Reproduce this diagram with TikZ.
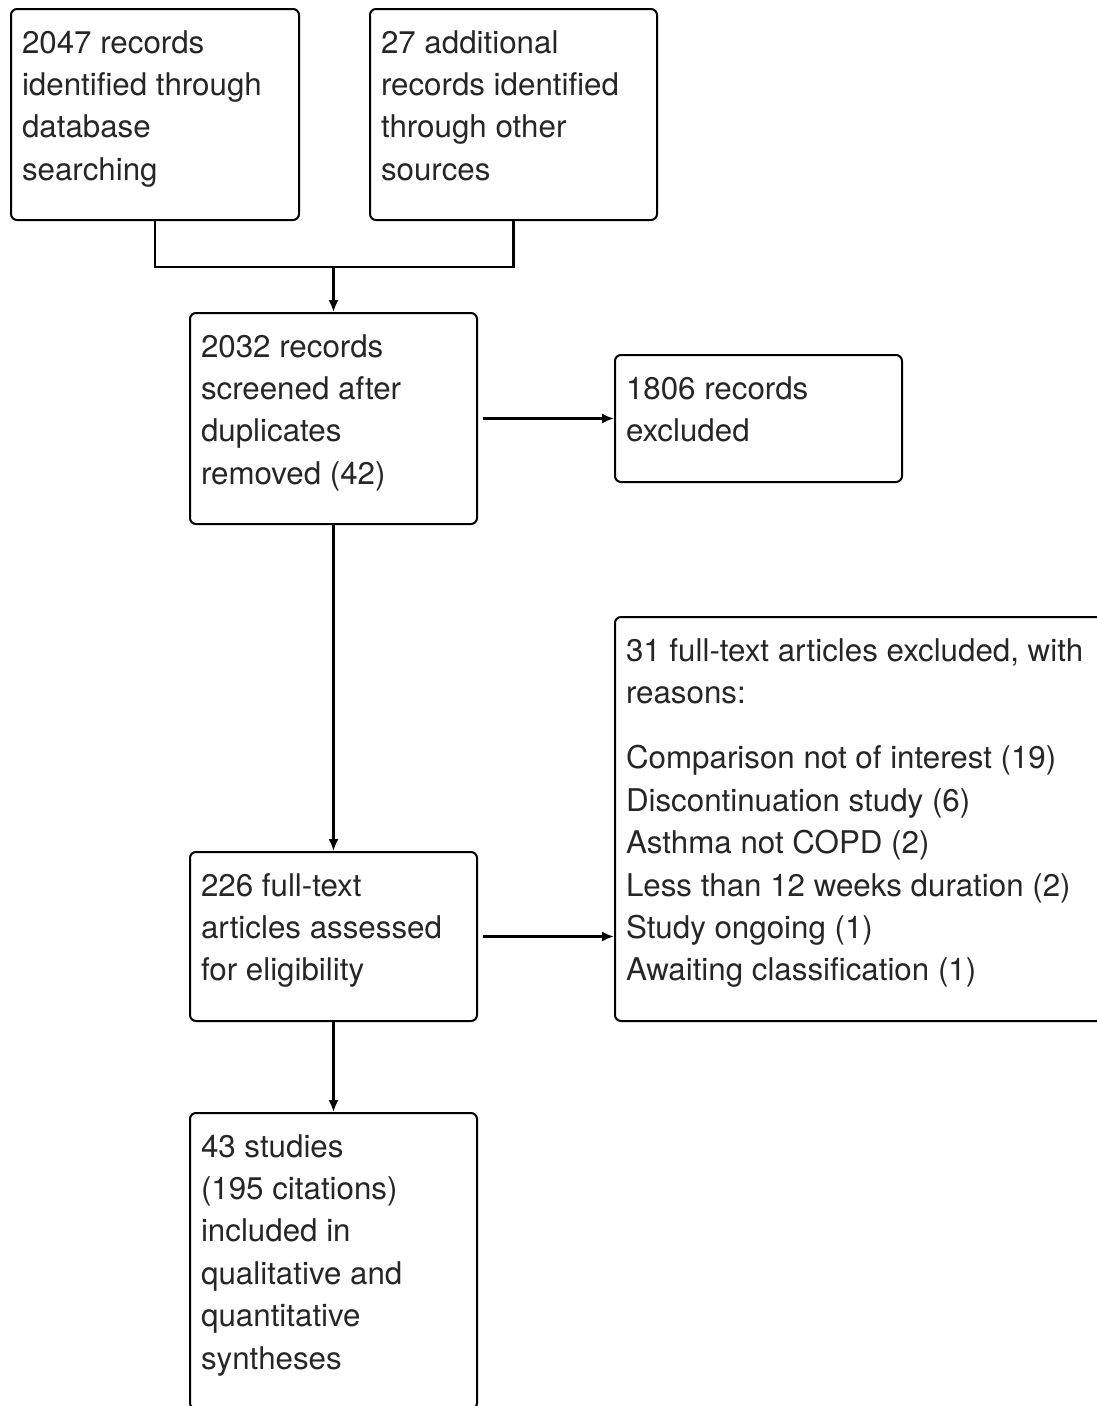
\documentclass[tikz,border=0pt]{standalone}
\usepackage{fontspec}
\setmainfont{TeX Gyre Heros}
\usetikzlibrary{arrows.meta}
\newcommand{\boxtext}[3]{\parbox[c][#2][t]{#1}{\rule{0pt}{44pt}#3}}
\tikzset{conn/.style={line width=2.1pt},
  flowbox/.style={draw, line width=2pt, rounded corners=6pt, anchor=north west, inner xsep=11pt, inner ysep=0pt,
    font=\fontsize{31.3pt}{42.4pt}\selectfont, text=black!85},
  arr/.style={conn, -{Latex[length=12pt,width=10pt]}}}

\begin{document}
\begin{tikzpicture}[x=1pt,y=-1pt]
  \useasboundingbox (0,0) rectangle (1097,1406);
  \node[flowbox] (ident) at (10,8)
    {\boxtext{266pt}{211pt}{2047 records\\identified through\\database\\searching}};
  \node[flowbox] (other) at (369,8)
    {\boxtext{265pt}{211pt}{27 additional\\records identified\\through other\\sources}};
  \node[flowbox] (screen) at (189,312)
    {\boxtext{265pt}{211pt}{2032 records\\screened after\\duplicates\\removed (42)}};
  \node[flowbox] (excl) at (614,354)
    {\boxtext{265pt}{127pt}{1806 records\\excluded}};
  \node[flowbox] (full) at (189,851)
    {\boxtext{265pt}{169pt}{226 full-text\\articles assessed\\for eligibility}};
  \node[flowbox] (reasons) at (614,616)
    {\boxtext{468pt}{404pt}{31 full-text articles excluded, with\\reasons:\\[23pt]Comparison not of interest (19)\\Discontinuation study (6)\\Asthma not COPD (2)\\Less than 12 weeks duration (2)\\Study ongoing (1)\\Awaiting classification (1)}};
  \node[flowbox] (incl) at (189,1112)
    {\boxtext{265pt}{296pt}{43 studies\\(195 citations)\\included in\\qualitative and\\quantitative\\syntheses}};
  % merge of the two sources
  \coordinate (join) at (screen.north |- 0,267);
  \draw[conn] (ident.south) |- (join) -| (other.south);
  \draw[arr] (join) -- (screen.north);
  \draw[arr] ([xshift=5pt]screen.east) -- (excl.west);
  \draw[arr] (screen.south) -- (full.north);
  \draw[arr] ([xshift=5pt]full.east) -- (full.east -| reasons.west);
  \draw[arr] (full.south) -- (incl.north);
\end{tikzpicture}
\end{document}
